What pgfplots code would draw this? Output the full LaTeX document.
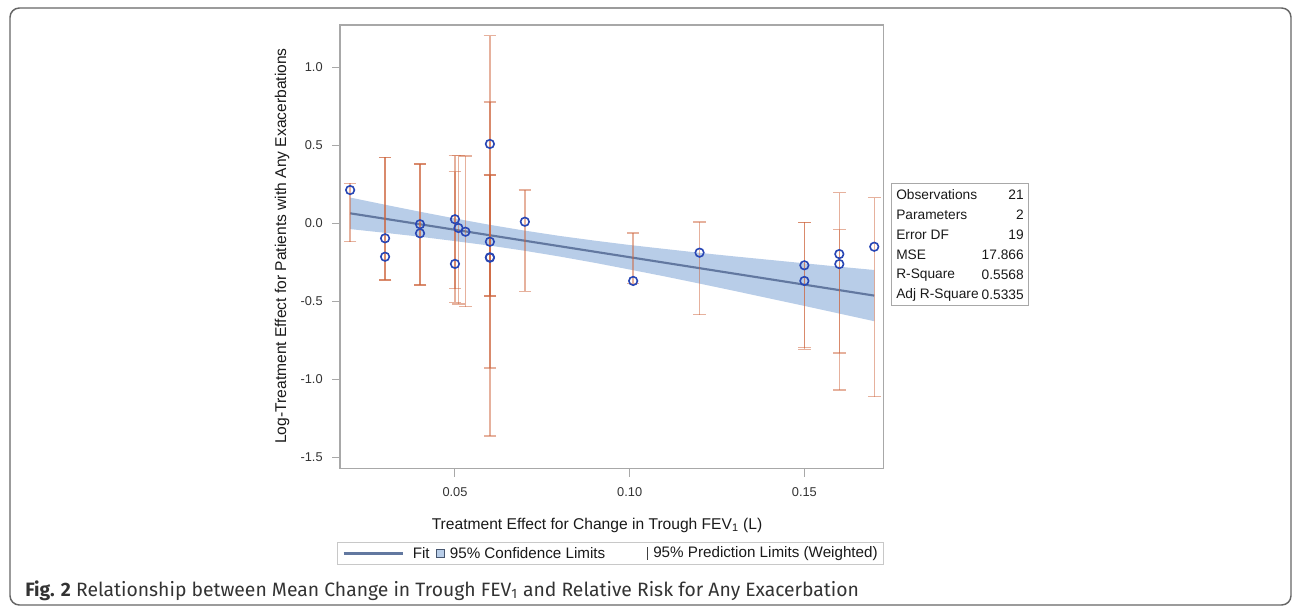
\documentclass[border=0pt]{standalone}
\usepackage{pgfplots}
\pgfplotsset{compat=1.18}
\usepackage{pgfplotstable}
\usepgfplotslibrary{fillbetween}
\usepackage{fontspec}
\setmainfont{Liberation Sans}
\newfontfamily\capfont{Fira Sans}

\definecolor{fitc}{RGB}{98,120,160}
\definecolor{bandc}{RGB}{184,205,232}
\definecolor{barc}{RGB}{205,100,60}
\definecolor{ptc}{RGB}{40,70,180}
\definecolor{framec}{RGB}{168,168,168}
\definecolor{legc}{RGB}{200,200,200}
\definecolor{ticklab}{RGB}{50,50,50}
\definecolor{labc}{RGB}{25,25,25}
\definecolor{sqc}{RGB}{70,85,110}

% prediction limits: x, centre, half-width
\pgfplotstableread{
x c e
0.020 0.0690 0.1870
0.030 0.0300 0.3930
0.030 0.0300 0.3930
0.040 -0.0075 0.3875
0.040 -0.0075 0.3875
0.050 -0.0445 0.3745
0.050 -0.0365 0.4695
0.051 -0.0420 0.4750
0.053 -0.0520 0.4820
0.060 -0.0805 1.2815
0.060 -0.0745 0.8515
0.060 -0.0780 0.3870
0.060 -0.0780 0.3870
0.070 -0.1110 0.3240
0.101 -0.2230 0.1610
0.120 -0.2885 0.2965
0.150 -0.3955 0.4015
0.150 -0.4005 0.4065
0.160 -0.4355 0.6315
0.160 -0.4355 0.3945
0.170 -0.4730 0.6370
}\predtable

% observations
\pgfplotstableread{
x y
0.020 0.213
0.030 -0.096
0.030 -0.214
0.040 -0.006
0.040 -0.064
0.050 0.026
0.050 -0.260
0.051 -0.030
0.053 -0.054
0.060 0.508
0.060 -0.118
0.060 -0.218
0.060 -0.220
0.070 0.010
0.101 -0.369
0.120 -0.188
0.150 -0.269
0.150 -0.369
0.160 -0.197
0.160 -0.261
0.170 -0.150
}\obstable

% 95% confidence band
\pgfplotstableread{
x u l
0.02 0.165 -0.037
0.03 0.119 -0.061
0.04 0.074 -0.086
0.05 0.031 -0.114
0.06 -0.010 -0.143
0.07 -0.047 -0.176
0.08 -0.081 -0.213
0.09 -0.111 -0.253
0.10 -0.139 -0.296
0.11 -0.164 -0.340
0.12 -0.189 -0.386
0.13 -0.212 -0.433
0.14 -0.234 -0.481
0.15 -0.256 -0.529
0.16 -0.278 -0.578
0.17 -0.299 -0.627
}\bandtable

\begin{document}
\begin{tikzpicture}
\begin{axis}[
  at={(255pt,103.875pt)}, anchor=south west,
  scale only axis, width=407.5pt, height=332.6pt,
  xmin=0.0171, xmax=0.1726, ymin=-1.570, ymax=1.2695,
  axis line style={framec, line width=1.1pt},
  xtick={0.05,0.10,0.15}, ytick={-1.5,-1,-0.5,0,0.5,1},
  xtick pos=bottom, ytick pos=left, tick align=outside, major tick length=6pt,
  tick style={framec, line width=0.8pt},
  xticklabel style={/pgf/number format/fixed, /pgf/number format/fixed zerofill, /pgf/number format/precision=2, yshift=-4.5pt},
  yticklabel style={/pgf/number format/fixed, /pgf/number format/fixed zerofill, /pgf/number format/precision=1, xshift=-3.5pt},
  /pgf/number format/assume math mode=true,
  ticklabel style={font=\fontsize{9.6}{11}\selectfont, text=ticklab},
  scaled ticks=false,
]
\addplot[name path=bu, draw=none, forget plot] table[x=x,y=u] {\bandtable};
\addplot[name path=bl, draw=none, forget plot] table[x=x,y=l] {\bandtable};
\addplot[bandc, forget plot] fill between[of=bu and bl];
\addplot[fitc, line width=1.6pt, forget plot] coordinates {(0.02,0.064) (0.17,-0.463)};
\addplot[draw=none, mark=none, forget plot,
  error bars/.cd, y dir=both, y explicit,
  error bar style={draw=barc, draw opacity=0.5, line width=1.05pt},
  error mark options={draw=barc, draw opacity=0.5, line width=1.05pt, mark size=4.7pt, rotate=90}]
  table[x=x, y=c, y error=e] {\predtable};
\addplot[only marks, mark=o, mark size=3.2pt, draw=ptc, mark options={line width=1.2pt, draw=ptc}, forget plot]
  table[x=x,y=y] {\obstable};
\end{axis}
\begin{scope}[x=0.75pt, y=-0.75pt, shift={(0pt,455.25pt)}]
  % outer frame
  \draw[black!60, line width=1.1pt, rounded corners=7] (10,8) rectangle (1291,605);
  % axis labels
  \node[font=\fontsize{11.7}{14}\selectfont, text=labc] at (597,525) {Treatment Effect for Change in Trough FEV\textsubscript{1} (L)};
  \node[rotate=90, font=\fontsize{11.7}{14}\selectfont, text=labc] at (282,246) {Log-Treatment Effect for Patients with Any Exacerbations};
  % fit statistics
  \draw[framec, line width=0.6pt] (891.7,183.3) rectangle (1028.3,305);
  \begin{scope}[every node/.style={font=\fontsize{10.3}{12}\selectfont, text=labc, inner sep=0pt}]
    \node[anchor=west] at (896,195) {Observations}; \node[anchor=east] at (1024,195) {21};
    \node[anchor=west] at (896,215) {Parameters};   \node[anchor=east] at (1024,215) {2};
    \node[anchor=west] at (896,235) {Error DF};     \node[anchor=east] at (1024,235) {19};
    \node[anchor=west] at (896,255) {MSE};          \node[anchor=east] at (1024,255) {17.866};
    \node[anchor=west] at (896,275) {R-Square};     \node[anchor=east] at (1024,275) {0.5568};
    \node[anchor=west] at (896,295) {Adj R-Square}; \node[anchor=east] at (1024,295) {0.5335};
  \end{scope}
  % legend
  \draw[legc, line width=0.6pt] (337,542.5) rectangle (883.6,564.6);
  \draw[fitc, line width=1.6pt] (343.6,553.5) -- (403.2,553.5);
  \draw[sqc, fill=bandc, line width=0.6pt] (436.4,549.5) rectangle (444.4,557.5);
  \draw[black!75, line width=0.5pt] (647,547) -- (647,560);
  \begin{scope}[every node/.style={font=\fontsize{11.4}{13}\selectfont, text=labc, inner sep=0pt, anchor=west}]
    \node at (412.5,553.5) {Fit};
    \node at (449.6,553.5) {95\% Confidence Limits};
    \node at (653,553.5) {95\% Prediction Limits (Weighted)};
  \end{scope}
  % caption
  \node[anchor=base west, inner sep=0pt, text=black!80] at (25,596) {\capfont\fontsize{14.5}{17}\selectfont\textbf{Fig. 2} Relationship between Mean Change in Trough FEV\textsubscript{1} and Relative Risk for Any Exacerbation};
\end{scope}
\pgfresetboundingbox
\path[use as bounding box] (0,0) rectangle (969pt,455.25pt);
\end{tikzpicture}
\end{document}
